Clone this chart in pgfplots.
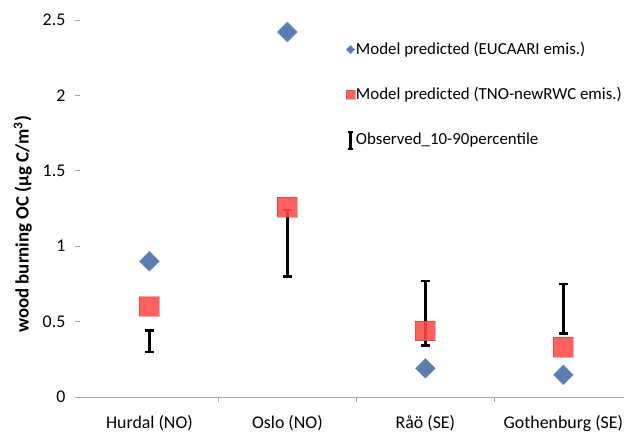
\documentclass[border=0pt]{standalone}
\usepackage{pgfplots}
\pgfplotsset{compat=1.18}
\usepackage{fontspec}
\setmainfont{Carlito}
\definecolor{dblue}{HTML}{5B7EAE}
\definecolor{dred}{HTML}{FF4A4A}
\definecolor{axgray}{HTML}{A6A6A6}
\begin{document}
\fontsize{18}{21}\selectfont
\begin{tikzpicture}[x=1pt,y=1pt]
\begin{axis}[
  at={(0pt,0pt)}, anchor=south west,
  scale only axis, width=548pt, height=400pt,
  xmin=-0.5, xmax=3.442, ymin=0, ymax=2.632,
  axis y line=none,
  axis x line*=bottom,
  x axis line style={axgray, line width=0.8pt, -},
  xtick={0,1,2,3}, xticklabels={Hurdal (NO),Oslo (NO),Råö (SE),Gothenburg (SE)},
  minor xtick={0.5,1.5,2.5},
  x tick style={draw=none},
  minor x tick style={draw=axgray, line width=0.8pt},
  minor tick length=5pt,
  tick align=outside,
  xticklabel style={font=\fontsize{18}{21}\selectfont, yshift=-8pt},
  ytick=\empty,
  clip=false,
  /pgf/number format/assume math mode=true,
  legend style={at={(0.488,0.897)}, anchor=north west, draw=none, fill=none,
    font=\fontsize{17}{20}\selectfont, row sep=28pt, inner sep=0pt,
    nodes={inner sep=1pt}},
  legend cell align=left,
]
\addplot[only marks, mark=square*, mark size=7.07pt, mark options={rotate=45, fill=dblue, draw=dblue!85!white},
  legend image post style={mark size=3pt}]
  coordinates {(0,0.90) (1,2.42) (2,0.19) (3,0.147)};
\addlegendentry{Model predicted (EUCAARI emis.)}
\addplot[forget plot, draw=none, mark=none,
  error bars/.cd, y dir=both, y explicit,
  error bar style={line width=2.6pt, black},
  error mark options={rotate=90, mark size=4.5pt, line width=2.6pt, black}]
  coordinates {(0,0.37) +- (0,0.07) (1,1.02) +- (0,0.22) (2,0.555) +- (0,0.215) (3,0.585) +- (0,0.165)};
\addplot[only marks, mark=square*, mark size=10pt, mark options={fill=dred, fill opacity=0.88, draw=dred!75!black, draw opacity=0.4},
  legend image post style={mark size=4.5pt}]
  coordinates {(0,0.60) (1,1.26) (2,0.44) (3,0.33)};
\addlegendentry{Model predicted (TNO-newRWC emis.)}
\addlegendimage{legend image code/.code={
  \draw[line width=2.4pt] (0.3cm,-0.3cm)--(0.3cm,0.3cm);
  \draw[line width=2.4pt] (0.21cm,-0.3cm)--(0.39cm,-0.3cm);
  \draw[line width=2.4pt] (0.21cm,0.3cm)--(0.39cm,0.3cm);}}
\addlegendentry{Observed\_10-90percentile}
\end{axis}
\begin{axis}[
  at={(0pt,0pt)}, anchor=south west,
  scale only axis, width=548pt, height=400pt,
  xmin=-0.5, xmax=3.442, ymin=0, ymax=2.632,
  axis x line=none,
  axis y line*=left,
  y axis line style={draw=none},
  ytick={0,0.5,1,1.5,2,2.5},
  yticklabels={0,0.5,1,1.5,2,2.5},
  y tick style={draw=axgray, line width=0.8pt},
  major tick length=5pt, tick align=outside,
  yticklabel style={font=\fontsize{18}{21}\selectfont, xshift=-4pt},
  ylabel={\bfseries wood burning OC (μg C/m\textsuperscript{3})},
  every axis y label/.style={at={(rel axis cs:0,0.435)}, xshift=-58pt, rotate=90, anchor=center, font=\fontsize{19}{22}\selectfont},
]
\end{axis}
\useasboundingbox (-81pt,-33pt) rectangle (548pt,400pt);
\end{tikzpicture}
\end{document}
